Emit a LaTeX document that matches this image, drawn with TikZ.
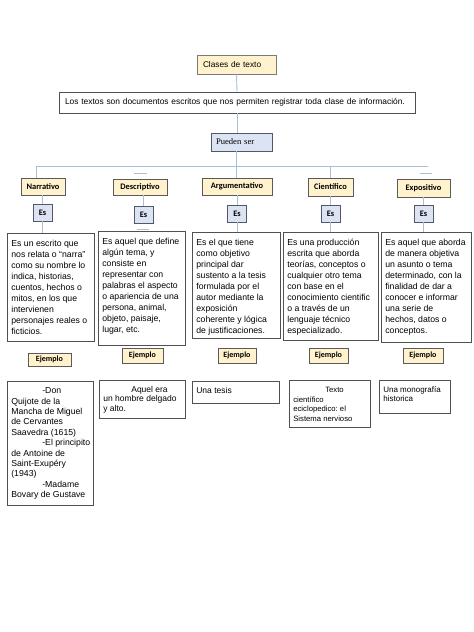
\documentclass[tikz,border=0pt]{standalone}
\usepackage{fontspec}
\setmainfont{Liberation Sans}
\newfontfamily\carlito{Carlito}
\newfontfamily\serifr{Liberation Serif}
\definecolor{cream}{HTML}{FFF2CC}
\definecolor{catborder}{HTML}{5A5A5A}
\definecolor{esblue}{HTML}{DCE4F4}
\definecolor{esborder}{HTML}{52586A}
\definecolor{linkblue}{HTML}{A7C0DA}
\definecolor{descborder}{HTML}{505050}
\definecolor{topborder}{HTML}{7A7A7A}
% width, height, font size, leading, text
\newcommand\txtbox[5]{\parbox[c][\dimexpr#2pt-10pt\relax][t]{\dimexpr#1pt-8pt\relax}{\fontsize{#3}{#4}\selectfont\raggedright\strut#5}}
\tikzset{
  link/.style={draw=linkblue, line width=0.9pt},
  cat/.style={draw=catborder, fill=cream, line width=0.7pt, inner sep=0pt,
    font=\carlito\bfseries\fontsize{8.4}{10}\selectfont},
  esbox/.style={draw=esborder, fill=esblue, line width=0.7pt, inner sep=0pt,
    minimum width=19pt, minimum height=17pt,
    font=\carlito\bfseries\fontsize{8.4}{10}\selectfont},
  ejbox/.style={cat, font=\carlito\bfseries\fontsize{8}{9.6}\selectfont},
  desc/.style={draw=descborder, fill=white, line width=0.7pt, anchor=north west,
    inner xsep=4pt, inner ysep=5pt},
}
\begin{document}
\begin{tikzpicture}[x=1pt,y=-1pt]
\useasboundingbox[fill=white] (0,0) rectangle (474,632);

% top part
\node[draw=topborder, fill=cream, line width=0.7pt, inner xsep=6pt, inner ysep=0pt,
  minimum height=19pt, text width=67pt, align=left,
  font=\fontsize{8.3}{10}\selectfont] (clases) at (236.5,64.5) {Clases de texto};
\node[draw=descborder, fill=white, line width=0.7pt, inner xsep=6pt, inner ysep=0pt,
  minimum height=21pt, text width=344pt, align=left,
  font=\fontsize{8.4}{10}\selectfont] (intro) at (237,102.5)
  {Los textos son documentos escritos que nos permiten registrar toda clase de información.};
\node[draw=esborder, fill=esblue, line width=0.7pt, inner xsep=5pt, inner ysep=0pt,
  minimum height=18pt, text width=51pt, align=left,
  font=\serifr\fontsize{8.6}{10}\selectfont] (pueden) at (241.5,142) {Pueden ser};

% categories
\node[cat, minimum width=44pt, minimum height=17pt] (narr) at (43,186.5) {Narrativo};
\node[cat, minimum width=54pt, minimum height=16pt] (descr) at (140,187) {Descriptivo};
\node[cat, minimum width=70pt, minimum height=17pt] (argu) at (237,186.5) {Argumentativo};
\node[cat, minimum width=45pt, minimum height=18pt] (cien) at (330.5,187) {Científico};
\node[cat, minimum width=53pt, minimum height=18pt] (expo) at (423.5,188) {Expositivo};

% Es boxes
\node[esbox] (es1) at (42.5,212.5) {Es};
\node[esbox] (es2) at (143.5,215) {Es};
\node[esbox] (es3) at (237,213.5) {Es};
\node[esbox] (es4) at (330.5,213.5) {Es};
\node[esbox] (es5) at (423.5,213.5) {Es};

% descriptions
\node[desc] (d1) at (7,233) {\txtbox{87}{108}{8.7}{11}{Es un escrito que\\nos relata o “narra”\\como su nombre lo\\indica, historias,\\cuentos, hechos o\\mitos, en los que\\intervienen\\personajes~reales~o\\ficticios.}};
\node[desc] (d2) at (98,231) {\txtbox{87}{114}{8.7}{11}{Es aquel que define\\algún tema, y\\consiste en\\representar con\\palabras~el~aspecto\\o apariencia de una\\persona, animal,\\objeto, paisaje,\\lugar, etc.}};
\node[desc] (d3) at (192,232) {\txtbox{88}{106}{8.7}{11}{Es el que tiene\\como objetivo\\principal dar\\sustento a la tesis\\formulada por el\\autor mediante la\\exposición\\coherente y lógica\\de~justificaciones.}};
\node[desc] (d4) at (283,232) {\txtbox{95}{108}{8.7}{11}{Es una producción\\escrita que aborda\\teorías,~conceptos~o\\cualquier~otro~tema\\con base en el\\conocimiento~cientific\\o a través de un\\lenguaje técnico\\especializado.}};
\node[desc] (d5) at (381,232) {\txtbox{90}{110}{8.7}{11}{Es~aquel~que~aborda\\de~manera~objetiva\\un asunto o tema\\determinado,~con~la\\finalidad de dar a\\conocer e informar\\una serie de\\hechos, datos o\\conceptos.}};

% Ejemplo boxes
\node[ejbox, minimum width=43pt, minimum height=13pt] (ej1) at (49.5,359.5) {Ejemplo};
\node[ejbox, minimum width=41pt, minimum height=15pt] (ej2) at (142.5,355.5) {Ejemplo};
\node[ejbox, minimum width=38pt, minimum height=15pt] (ej3) at (237,355.5) {Ejemplo};
\node[ejbox, minimum width=39pt, minimum height=15pt] (ej4) at (328.5,355.5) {Ejemplo};
\node[ejbox, minimum width=40pt, minimum height=15pt] (ej5) at (423,355.5) {Ejemplo};

% examples
\node[desc] (x1) at (7,381) {\txtbox{86}{124}{8.7}{10.4}{\hspace*{31pt}\mbox{-Don}\\Quijote de la\\Mancha~de~Miguel\\de Cervantes\\Saavedra (1615)\\\hspace*{31pt}\mbox{-El principito}\\de Antoine de\\Saint-Exupéry\\(1943)\\\hspace*{31pt}\mbox{-Madame}\\Bovary~de~Gustave}};
\node[desc] (x2) at (99,380) {\txtbox{86}{38}{8.5}{9.6}{\hspace*{28pt}Aquel era\\un~hombre~delgado\\y alto.}};
\node[desc] (x3) at (192,381) {\txtbox{87}{22}{8.5}{10}{Una tesis}};
\node[desc] (x4) at (289,380) {\txtbox{81}{47}{7.7}{9.8}{\hspace*{32pt}Texto\\científico\\eciclopedico:~el\\Sistema~nervioso}};
\node[desc] (x5) at (379,380) {\txtbox{71}{33}{8}{9.5}{Una~monografía\\historica}};

% connectors
\coordinate (spine) at (236,166);
\coordinate (hl) at (36,166);
\coordinate (hr) at (428,166);
\draw[link] (clases.south) -- (intro.north);
\draw[link] (intro.south) -- (intro.south |- pueden.north);
\draw[link] (spine |- pueden.south) -- (spine |- argu.north);
\draw[link] (hl) -- (hr);
\draw[link] (hl) -- (hl |- narr.north);
\draw[link] (cien.north |- hl) -- (cien.north);

\draw[link] (narr.south -| es1) -- (es1.north);
\draw[link] (descr.south -| es2) -- (es2.north);
\draw[link] (argu.south) -- (es3.north);
\draw[link] (cien.south) -- (es4.north);
\draw[link] (expo.south) -- (es5.north);

\draw[link] (es1.south) -- (es1.south |- d1.north);
\draw[link] (es3.south) -- (es3.south |- d3.north);
\draw[link] (es4.south) -- (es4.south |- d4.north);
\draw[link] (es5.south) -- (es5.south |- d5.north);

% stray short marks
\coordinate (m1a) at (134,173); \coordinate (m1b) at (147,173);
\coordinate (m2a) at (420,173); \coordinate (m2b) at (432,173);
\coordinate (m3a) at (137,229); \coordinate (m3b) at (149,229);
\draw[link] (m1a) -- (m1b);
\draw[link] (m2a) -- (m2b);
\draw[link] (m3a) -- (m3b);
\end{tikzpicture}
\end{document}
